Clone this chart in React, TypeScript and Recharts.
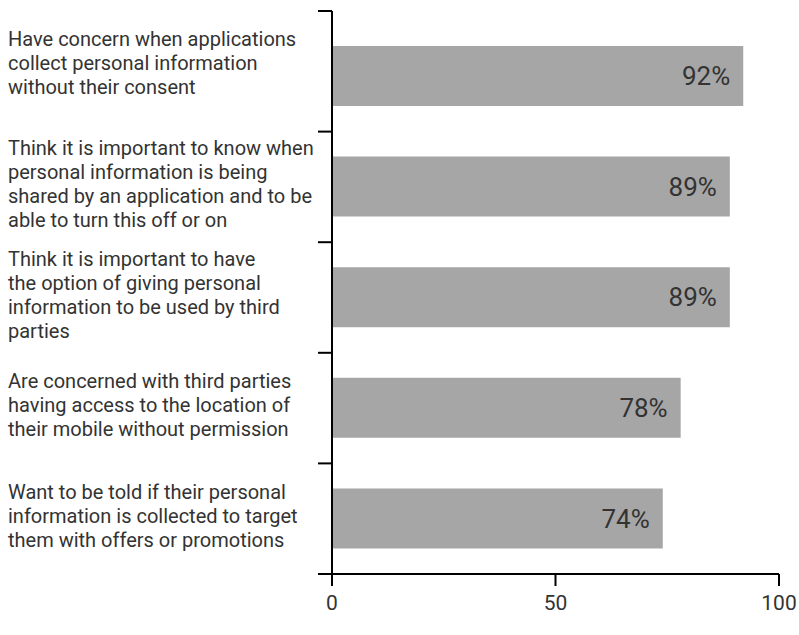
import React from "react";
import { BarChart, Bar, XAxis, YAxis, LabelList } from "recharts";

const categories: string[] = [
  "Have concern when applications collect personal information without their consent",
  "Think it is important to know when personal information is being shared by an application and to be able to turn this off or on",
  "Think it is important to have the option of giving personal information to be used by third parties",
  "Are concerned with third parties having access to the location of their mobile without permission",
  "Want to be told if their personal information is collected to target them with offers or promotions",
];

const labelLines: string[][] = [
  ["Have concern when applications", "collect personal information", "without their consent"],
  ["Think it is important to know when", "personal information is being", "shared by an application and to be", "able to turn this off or on"],
  ["Think it is important to have", "the option of giving personal", "information to be used by third", "parties"],
  ["Are concerned with third parties", "having access to the location of", "their mobile without permission"],
  ["Want to be told if their personal", "information is collected to target", "them with offers or promotions"],
];

const values: number[] = [92, 89, 89, 78, 74];
const xTicks: number[] = [0, 50, 100];

const data = categories.map((c, i) => ({ name: c, value: values[i] }));

const FONT = "Roboto, 'Noto Sans', sans-serif";
const TEXT = "#333333";
const AXIS_X = 332;
const PAD_TOP = 10;
const LINE_H = 24;

const YTick = (props: any) => {
  const { y, payload, index } = props;
  const half = payload && payload.offset ? payload.offset : 55;
  const lines = labelLines[index] || [];
  let center = y - 3;
  if (index === 0) center = y - PAD_TOP / 2 - 8;
  const startY = center - ((lines.length - 1) * LINE_H) / 2;
  return (
    <g>
      <line x1={AXIS_X - 14} x2={AXIS_X} y1={y + half} y2={y + half} stroke="#000" strokeWidth={2} />
      {index === 0 && (
        <line
          x1={AXIS_X - 14}
          x2={AXIS_X}
          y1={y - half - PAD_TOP}
          y2={y - half - PAD_TOP}
          stroke="#000"
          strokeWidth={2}
        />
      )}
      <text x={8} fill={TEXT} fontFamily={FONT} fontSize={20} textAnchor="start">
        {lines.map((l, i) => (
          <tspan key={i} x={8} y={startY + i * LINE_H} dominantBaseline="central">
            {l}
          </tspan>
        ))}
      </text>
    </g>
  );
};

export default function App() {
  return (
    <div style={{ position: "absolute", left: 0, top: 0, width: 799, height: 635, background: "#fff" }}>
      <BarChart
        width={799}
        height={635}
        data={data}
        layout="vertical"
        margin={{ top: 11, right: 20, bottom: 21, left: 0 }}
      >
        <XAxis
          type="number"
          domain={[0, 100]}
          ticks={xTicks}
          height={40}
          axisLine={{ stroke: "#000", strokeWidth: 2 }}
          tickLine={{ stroke: "#000", strokeWidth: 2 }}
          tickSize={12}
          tickMargin={9}
          tick={{ fill: TEXT, fontSize: 21, fontFamily: FONT }}
        />
        <YAxis
          type="category"
          dataKey="name"
          width={332}
          padding={{ top: PAD_TOP, bottom: 0 }}
          axisLine={{ stroke: "#000", strokeWidth: 2 }}
          tickLine={false}
          tickSize={0}
          interval={0}
          tick={<YTick />}
        />
        <Bar dataKey="value" fill="#a6a6a6" barSize={60} isAnimationActive={false}>
          <LabelList
            dataKey="value"
            position="insideRight"
            offset={13}
            formatter={(v: any) => `${v}%`}
            fill={TEXT}
            fontSize={26}
            fontFamily={FONT}
          />
        </Bar>
      </BarChart>
    </div>
  );
}
